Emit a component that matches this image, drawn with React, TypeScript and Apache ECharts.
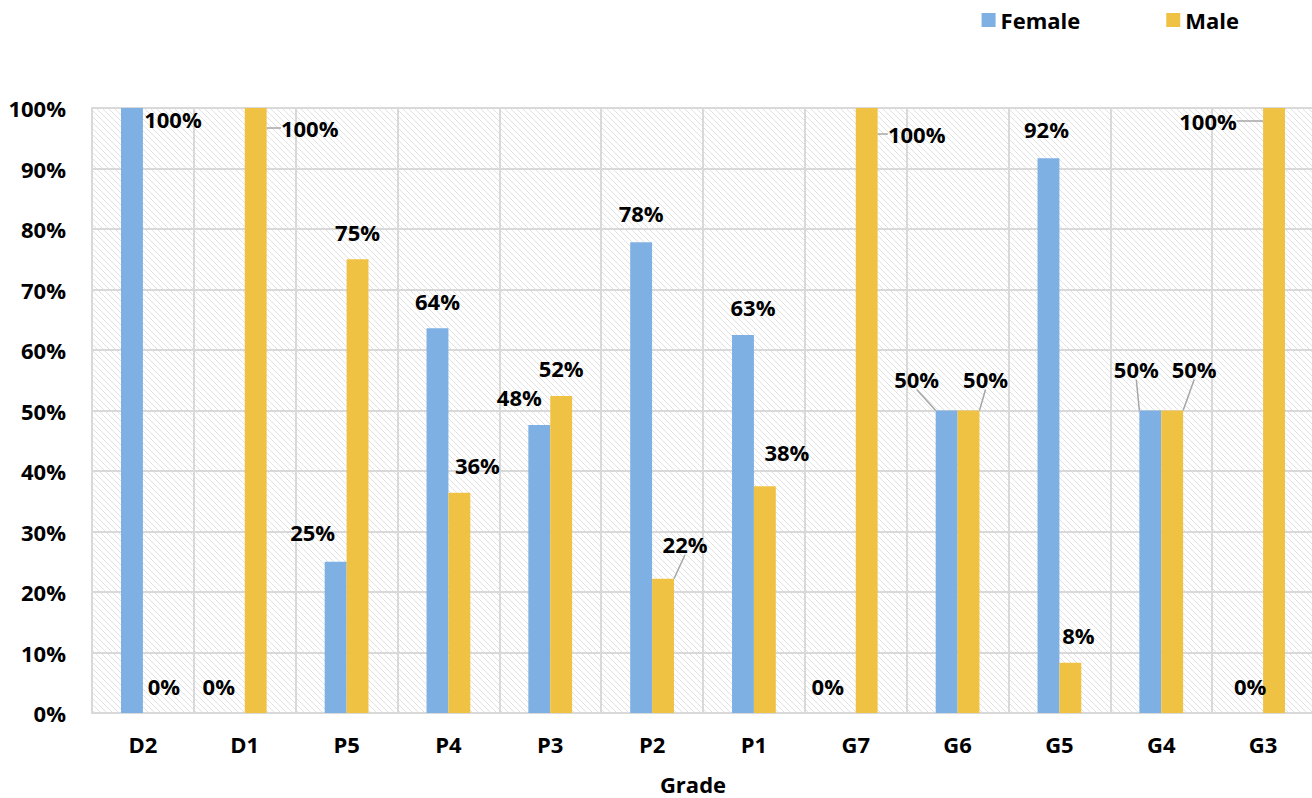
import React, { useEffect, useRef } from "react";
import * as echarts from "echarts";

const grades = ["D2", "D1", "P5", "P4", "P3", "P2", "P1", "G7", "G6", "G5", "G4", "G3"];
const femaleValues = [100, 0, 25, 63.6, 47.6, 77.8, 62.5, 0, 50, 91.7, 50, 0];
const maleValues = [0, 100, 75, 36.4, 52.4, 22.2, 37.5, 100, 50, 8.3, 50, 100];
const yTicks = [0, 10, 20, 30, 40, 50, 60, 70, 80, 90, 100];

// label shifts (dx, dy) relative to the default "top" label position
const femaleLabelShift: [number, number][] = [
  [41, 34], [-15, -4], [-23, -7], [0, -4], [-20, -5], [0, -6],
  [10, -5], [-17, -4], [-30, -9], [-2, -6], [-14, -19], [-2, -4],
];
const maleLabelShift: [number, number][] = [
  [10, -4], [54, 43], [0, -4], [18, -5], [0, -5], [22, -12],
  [22, -11], [50, 49], [17, -9], [8, -5], [22, -19], [-66, 36],
];
const femaleLeader = [false, false, false, false, false, false, false, false, true, false, true, false];
const maleLeader = [false, true, false, false, false, true, false, true, true, false, true, true];

const FONT = "Open Sans";

function makeHatch(): string {
  const s = 6;
  const c = document.createElement("canvas");
  c.width = s;
  c.height = s;
  const ctx = c.getContext("2d")!;
  ctx.fillStyle = "#ffffff";
  ctx.fillRect(0, 0, s, s);
  ctx.strokeStyle = "#e2e2e2";
  ctx.lineWidth = 1;
  for (const k of [-s, 0, s]) {
    ctx.beginPath();
    ctx.moveTo(k, 0);
    ctx.lineTo(k + s, s);
    ctx.stroke();
  }
  return c.toDataURL();
}

export default function App() {
  const ref = useRef<HTMLDivElement>(null);
  useEffect(() => {
    if (!ref.current) return;
    const chart = echarts.init(ref.current, undefined, { renderer: "svg" });
    const labelBase = {
      show: true,
      position: "top",
      distance: 12,
      fontFamily: FONT,
      fontWeight: "bold",
      fontSize: 22,
      color: "#000",
      formatter: (p: any) => Math.round(p.value) + "%",
    };
    const mkData = (vals: number[], leaders: boolean[]) =>
      vals.map((v, i) => ({
        value: v,
        labelLine: { show: leaders[i], lineStyle: { color: "#a6a6a6", width: 1.5 } },
      }));
    chart.setOption({
      animation: false,
      textStyle: { fontFamily: FONT },
      legend: {
        top: 4,
        right: 68,
        itemGap: 86,
        itemWidth: 14,
        itemHeight: 14,
        icon: "rect",
        textStyle: { fontFamily: FONT, fontWeight: "bold", fontSize: 22, color: "#000" },
        data: ["Female", "Male"],
      },
      grid: {
        left: 92,
        right: -2,
        top: 108,
        bottom: 85,
        outerBoundsMode: "none",
        containLabel: false,
        show: true,
        borderColor: "#d9d9d9",
        borderWidth: 2,
        backgroundColor: { image: makeHatch(), repeat: "repeat", imageWidth: 6, imageHeight: 6 } as any,
      } as any,
      xAxis: {
        type: "category",
        data: grades,
        name: "Grade",
        nameLocation: "middle",
        nameGap: 60,
        nameTextStyle: {
          fontFamily: FONT,
          fontWeight: "bold",
          fontSize: 22,
          color: "#000",
          padding: [0, 20, 0, 0],
        },
        axisLine: { lineStyle: { color: "#d9d9d9", width: 2 } },
        axisTick: { show: false },
        axisLabel: { fontFamily: FONT, fontWeight: "bold", fontSize: 22, color: "#000", margin: 20 },
        splitLine: { show: true, interval: 0, lineStyle: { color: "#d9d9d9", width: 2 } },
      },
      yAxis: {
        type: "value",
        min: yTicks[0],
        max: yTicks[yTicks.length - 1],
        interval: 10,
        axisLine: { show: false },
        axisTick: { show: false },
        axisLabel: {
          fontFamily: FONT,
          fontWeight: "bold",
          fontSize: 22,
          color: "#000",
          margin: 26,
          formatter: (v: number) => v + "%",
        },
        splitLine: { lineStyle: { color: "#d9d9d9", width: 2 } },
      },
      series: [
        {
          name: "Female",
          type: "bar",
          data: mkData(femaleValues, femaleLeader),
          barWidth: "21.5%",
          barGap: "0%",
          itemStyle: { color: "#7eb0e4" },
          label: labelBase,
          labelLayout: (p: any) => {
            const s = femaleLabelShift[p.dataIndex];
            return { dx: s[0], dy: s[1] };
          },
        },
        {
          name: "Male",
          type: "bar",
          data: mkData(maleValues, maleLeader),
          barWidth: "21.5%",
          barGap: "0%",
          itemStyle: { color: "#f0c244" },
          label: labelBase,
          labelLayout: (p: any) => {
            const s = maleLabelShift[p.dataIndex];
            return { dx: s[0], dy: s[1] };
          },
        },
      ],
    });
    return () => chart.dispose();
  }, []);
  return (
    <div
      ref={ref}
      style={{ position: "fixed", left: 0, top: 0, width: 1312, height: 798, background: "#fff" }}
    />
  );
}
